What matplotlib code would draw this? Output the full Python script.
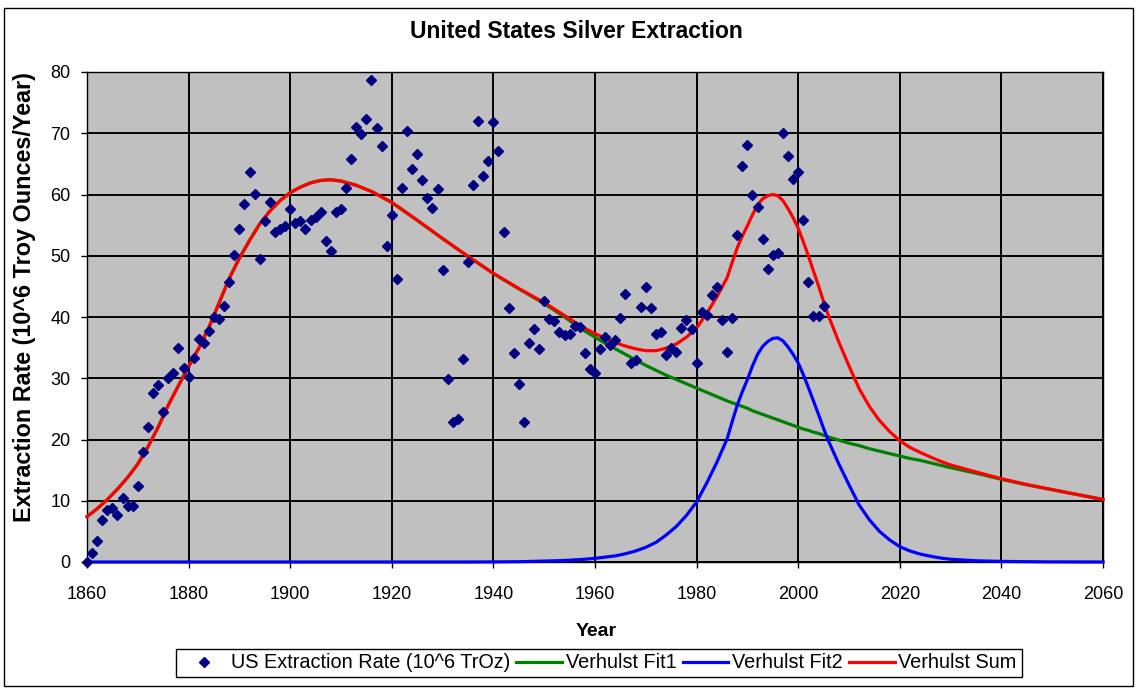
import numpy as np
import matplotlib
matplotlib.use("Agg")
import matplotlib.pyplot as plt
from matplotlib.patches import Rectangle
from matplotlib.transforms import Bbox, TransformedBbox

plt.rcParams['font.family'] = ['Liberation Sans', 'DejaVu Sans']

# Annual US silver extraction, 10^6 troy ounces
years = np.arange(1860, 2006)
extraction = [
    0.0, 1.5, 3.4, 6.9, 8.5, 8.8, 7.7, 10.4, 9.2, 9.2,
    12.4, 18.0, 22.1, 27.6, 28.9, 24.5, 30.0, 30.9, 35.0, 31.7,
    30.2, 33.3, 36.4, 35.8, 37.7, 40.0, 39.7, 41.8, 45.7, 50.2,
    54.4, 58.4, 63.6, 60.1, 49.4, 55.6, 58.8, 53.9, 54.3, 54.9,
    57.6, 55.4, 55.6, 54.3, 55.9, 56.4, 57.2, 52.4, 50.7, 57.1,
    57.7, 61.1, 65.8, 71.1, 69.9, 72.3, 78.7, 70.8, 68.0, 51.6,
    56.7, 46.2, 61.1, 70.4, 64.1, 66.6, 62.4, 59.5, 57.8, 60.9,
    47.7, 29.8, 22.9, 23.3, 33.1, 48.9, 61.6, 72.0, 63.1, 65.5,
    71.8, 67.1, 53.9, 41.4, 34.2, 29.1, 22.9, 35.8, 38.0, 34.8,
    42.6, 39.7, 39.4, 37.5, 37.0, 37.3, 38.5, 38.3, 34.1, 31.5,
    30.8, 34.8, 36.8, 35.5, 36.2, 39.8, 43.8, 32.5, 33.0, 41.7,
    44.9, 41.4, 37.2, 37.6, 33.8, 34.9, 34.3, 38.2, 39.5, 38.0,
    32.5, 40.8, 40.3, 43.6, 44.9, 39.5, 34.3, 39.8, 53.4, 64.7,
    68.1, 59.9, 57.9, 52.7, 47.9, 50.1, 50.5, 70.1, 66.3, 62.6,
    63.6, 55.9, 45.7, 40.1, 40.2, 41.8,
]

# Fitted curves, sampled more densely where they bend
fit_years = [
    1860, 1862, 1864, 1866, 1868, 1870, 1872, 1874, 1876, 1878,
    1880, 1882, 1884, 1886, 1888, 1890, 1892, 1894, 1896, 1898,
    1900, 1902, 1904, 1906, 1908, 1910, 1913, 1916, 1920, 1925,
    1930, 1935, 1940, 1945, 1950, 1952, 1954, 1956, 1958, 1960,
    1962, 1964, 1966, 1968, 1970, 1972, 1974, 1976, 1978, 1980,
    1982, 1984, 1986, 1987, 1988, 1989, 1990, 1991, 1992, 1993,
    1994, 1995, 1996, 1997, 1998, 1999, 2000, 2001, 2002, 2003,
    2004, 2005, 2006, 2008, 2010, 2012, 2014, 2016, 2018, 2020,
    2022, 2024, 2026, 2028, 2030, 2035, 2040, 2045, 2050, 2055,
    2060,
]
fit1 = [
    7.4, 8.7, 10.2, 11.9, 13.8, 16.0, 18.8, 22.0, 25.6, 28.8,
    31.9, 34.9, 38.3, 42.3, 46.3, 49.6, 52.5, 55.2, 57.3, 59.0,
    60.3, 61.2, 61.9, 62.3, 62.4, 62.2, 61.5, 60.5, 58.7, 55.8,
    52.8, 49.9, 47.1, 44.6, 42.2, 41.1, 40.0, 38.8, 37.7, 36.7,
    35.7, 34.8, 33.9, 33.0, 32.1, 31.3, 30.5, 29.8, 29.1, 28.4,
    27.7, 27.0, 26.3, 26.0, 25.7, 25.4, 25.1, 24.7, 24.4, 24.1,
    23.8, 23.5, 23.2, 22.9, 22.6, 22.3, 22.0, 21.7, 21.5, 21.2,
    21.0, 20.7, 20.4, 19.9, 19.4, 19.0, 18.5, 18.1, 17.7, 17.3,
    16.9, 16.6, 16.2, 15.8, 15.4, 14.5, 13.5, 12.6, 11.8, 11.0,
    10.2,
]
fit2 = [
    0.0, 0.0, 0.0, 0.0, 0.0, 0.0, 0.0, 0.0, 0.0, 0.0,
    0.0, 0.0, 0.0, 0.0, 0.0, 0.0, 0.0, 0.0, 0.0, 0.0,
    0.0, 0.0, 0.0, 0.0, 0.0, 0.0, 0.0, 0.0, 0.0, 0.0,
    0.0, 0.0, 0.02, 0.05, 0.15, 0.2, 0.25, 0.35, 0.45, 0.6,
    0.8, 1.0, 1.35, 1.8, 2.4, 3.2, 4.4, 5.8, 7.6, 9.8,
    12.9, 16.3, 20.1, 22.9, 25.6, 27.8, 29.8, 32.0, 33.9, 35.2,
    36.0, 36.5, 36.6, 36.1, 35.1, 33.9, 32.5, 30.6, 28.5, 26.3,
    24.1, 21.8, 19.7, 16.0, 12.6, 9.3, 6.9, 5.0, 3.6, 2.5,
    1.8, 1.3, 0.95, 0.65, 0.45, 0.2, 0.1, 0.05, 0.02, 0.01,
    0.0,
]
fit_sum = np.array(fit1) + np.array(fit2)

fig = plt.figure(figsize=(11.37, 6.88), dpi=100)
ax = fig.add_axes([87 / 1137, 1 - 562 / 688, (1103 - 87) / 1137, (562 - 72) / 688])
ax.set_facecolor('#c0c0c0')

ax.plot(fit_years, fit1, color='#008000', lw=2.3, zorder=3, clip_on=False,
        label='Verhulst Fit1')
ax.plot(fit_years, fit2, color='#0000ff', lw=2.3, zorder=3.1, clip_on=False,
        label='Verhulst Fit2')
ax.plot(fit_years, fit_sum, color='#ff0000', lw=2.3, zorder=3.2, clip_on=False,
        label='Verhulst Sum')
ax.plot(years, extraction, linestyle='none', marker='D', markersize=4.9,
        color='#000080', zorder=4, clip_on=False,
        label='US Extraction Rate (10^6 TrOz)')

ax.set_xlim(1860, 2060)
ax.set_ylim(0, 80)
ax.set_xticks(np.arange(1860, 2061, 20))
ax.set_yticks(np.arange(0, 81, 10))
ax.grid(True, color='black', lw=1.4)
ax.set_axisbelow(True)
for sp in ax.spines.values():
    sp.set_color('black')
    sp.set_linewidth(1.0)
ax.tick_params(direction='out', length=4, width=1, labelsize=13,
               colors='black')
ax.tick_params(axis='x', pad=13)
ax.tick_params(axis='y', pad=8)

fig.text(576 / 1137, 1 - 31 / 688, 'United States Silver Extraction',
         ha='center', va='center', fontsize=16.5, fontweight='bold')
fig.text(596 / 1137, 1 - 632 / 688, 'Year', ha='center', va='center',
         fontsize=14, fontweight='bold')

# y label runs past the top of the plot area, so it is clipped there
ylab = fig.text(25 / 1137, 1 - 522 / 688,
                'Extraction Rate (10^6 Troy Ounces/Year)',
                rotation=90, ha='center', va='bottom',
                fontsize=16.8, fontweight='bold')
ylab.set_clip_box(TransformedBbox(Bbox([[0, 1 - 562 / 688], [0.06, 1 - 73 / 688]]),
                                  fig.transFigure))
ylab.set_clip_on(True)

handles, labels = ax.get_legend_handles_labels()
order = [3, 0, 1, 2]
leg = fig.legend([handles[i] for i in order], [labels[i] for i in order],
                 loc='center', bbox_to_anchor=(599 / 1137, 1 - 663 / 688),
                 ncol=4, fontsize=14.3, numpoints=1, frameon=True,
                 fancybox=False, edgecolor='black', framealpha=1,
                 handlelength=2.3, handletextpad=0.2, columnspacing=0.3,
                 borderpad=0.25, borderaxespad=0)
leg.get_frame().set_linewidth(1.0)

# chart area border
fig.patches.append(Rectangle((4 / 1137, 2 / 688), 1129 / 1137, 678 / 688,
                             transform=fig.transFigure, fill=False,
                             edgecolor='black', lw=1.0))

fig.savefig('out.png', dpi=100)
